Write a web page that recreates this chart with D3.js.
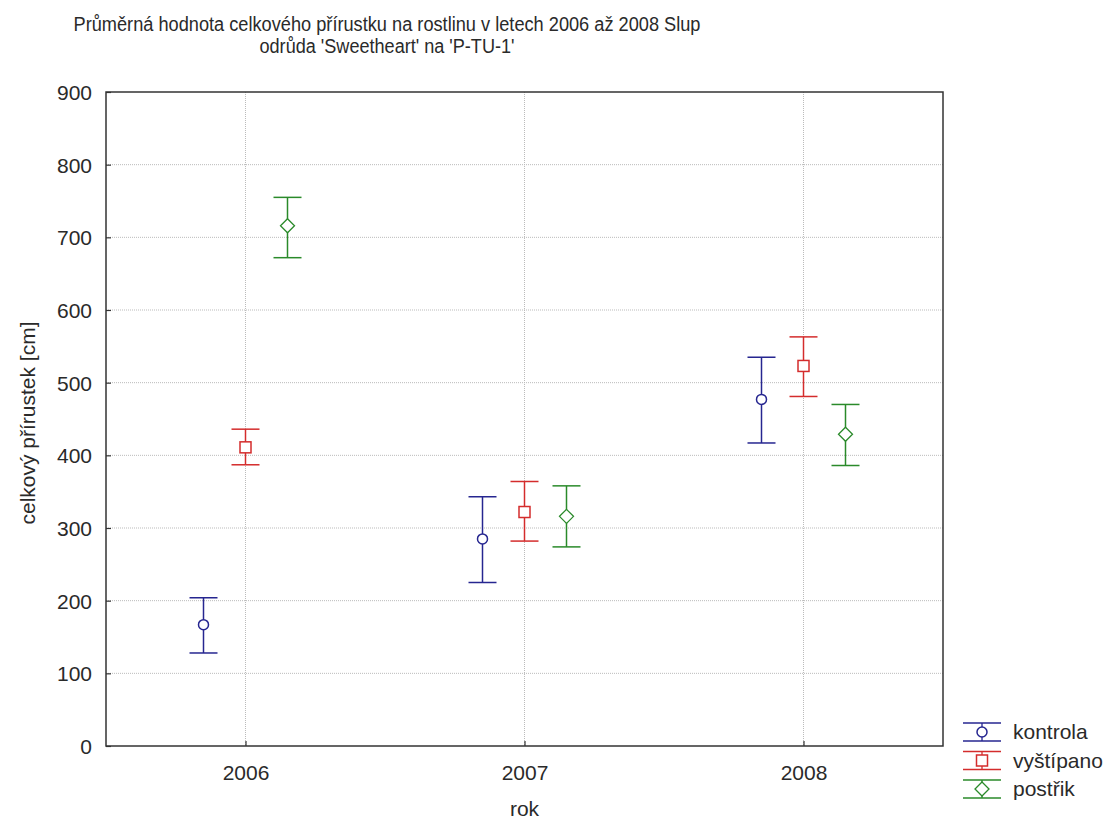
<!DOCTYPE html>
<html>
<head>
  <meta charset="utf-8">
  <title>Celkový přírustek</title>
  <script src="https://d3js.org/d3.v7.min.js"></script>
  <style>
    body { margin: 0; background: #fff; }
    svg text { font-family: 'Liberation Sans', Arial, sans-serif; fill: #2a2a2a; }
  </style>
</head>
<body>
  <div id="chart"></div>
  <script>
    // data
    const years = [2006, 2007, 2008];
    const groups = ["kontrola", "vyštípano", "postřik"];
    const kontrolaMean = [167, 285, 477];
    const kontrolaLow  = [128, 225, 417];
    const kontrolaHigh = [204, 343, 535];
    const vystipanoMean = [411, 322, 523];
    const vystipanoLow  = [387, 282, 481];
    const vystipanoHigh = [436, 364, 563];
    const postrikMean = [716, 316, 429];
    const postrikLow  = [672, 274, 386];
    const postrikHigh = [755, 358, 470];
    const yTicks = [0, 100, 200, 300, 400, 500, 600, 700, 800, 900];

    const series = [
      { name: groups[0], mean: kontrolaMean, low: kontrolaLow, high: kontrolaHigh, color: "#262690", shape: "circle", offset: -1 },
      { name: groups[1], mean: vystipanoMean, low: vystipanoLow, high: vystipanoHigh, color: "#d42c2c", shape: "square", offset: 0 },
      { name: groups[2], mean: postrikMean, low: postrikLow, high: postrikHigh, color: "#2a8a2a", shape: "diamond", offset: 1 }
    ];

    const width = 1113, height = 823;
    const margin = { left: 106, right: 170, top: 92, bottom: 77 };
    const innerW = width - margin.left - margin.right;
    const innerH = height - margin.top - margin.bottom;

    const svg = d3.select("#chart").append("svg")
      .attr("width", width)
      .attr("height", height);

    const x = d3.scaleLinear().domain([2005.5, 2008.5]).range([margin.left, margin.left + innerW]);
    const y = d3.scaleLinear().domain([0, 900]).range([margin.top + innerH, margin.top]);
    const dodge = 42;   // horizontal spread of the three groups in pixels
    const capW = 14;

    // title (squeezed a bit, the original font is narrower)
    const title = svg.append("text")
      .attr("text-anchor", "middle")
      .style("font-size", "20px");
    title.append("tspan").attr("x", 387).attr("y", 31)
      .attr("textLength", 627).attr("lengthAdjust", "spacingAndGlyphs")
      .text("Průměrná hodnota celkového přírustku na rostlinu v letech 2006 až 2008 Slup");
    title.append("tspan").attr("x", 387).attr("y", 53)
      .attr("textLength", 255).attr("lengthAdjust", "spacingAndGlyphs")
      .text("odrůda 'Sweetheart' na 'P-TU-1'");

    // grid
    svg.append("g").selectAll("line")
      .data(yTicks.slice(1, -1))
      .join("line")
      .attr("x1", margin.left).attr("x2", margin.left + innerW)
      .attr("y1", d => y(d)).attr("y2", d => y(d))
      .attr("stroke", "#bbb").attr("stroke-dasharray", "1,1");
    svg.append("g").selectAll("line")
      .data(years)
      .join("line")
      .attr("x1", d => x(d)).attr("x2", d => x(d))
      .attr("y1", margin.top).attr("y2", margin.top + innerH)
      .attr("stroke", "#bbb").attr("stroke-dasharray", "1,1");

    // axes
    const yAxis = svg.append("g")
      .attr("transform", `translate(${margin.left},0)`)
      .call(d3.axisLeft(y).tickValues(yTicks).tickSize(-5).tickPadding(14));
    const xAxis = svg.append("g")
      .attr("transform", `translate(0,${margin.top + innerH})`)
      .call(d3.axisBottom(x).tickValues(years).tickFormat(d3.format("d")).tickSize(-5).tickPadding(14));
    [yAxis, xAxis].forEach(a => {
      a.select(".domain").remove();
      a.selectAll(".tick line").attr("stroke", "#333").attr("stroke-width", 1.2);
      a.selectAll(".tick text").style("font-size", "21px").attr("fill", "#2a2a2a");
    });
    yAxis.selectAll(".tick text").attr("dy", "0.36em");
    xAxis.selectAll(".tick text").attr("dy", "0.95em");

    // frame
    svg.append("rect")
      .attr("x", margin.left).attr("y", margin.top)
      .attr("width", innerW).attr("height", innerH)
      .attr("fill", "none").attr("stroke", "#333").attr("stroke-width", 1.5);

    // axis titles
    svg.append("text")
      .attr("x", x(2007)).attr("y", 816)
      .attr("text-anchor", "middle").style("font-size", "21px")
      .text("rok");
    svg.append("text")
      .attr("transform", "translate(35,423) rotate(-90)")
      .attr("text-anchor", "middle").style("font-size", "21px")
      .text("celkový přírustek [cm]");

    function drawMarker(g, shape, cx, cy, color) {
      if (shape === "circle") {
        g.append("circle").attr("cx", cx).attr("cy", cy).attr("r", 5)
          .attr("fill", "#fff").attr("stroke", color).attr("stroke-width", 1.5);
      } else if (shape === "square") {
        g.append("rect").attr("x", cx - 5.5).attr("y", cy - 5.5).attr("width", 11).attr("height", 11)
          .attr("fill", "#fff").attr("stroke", color).attr("stroke-width", 1.5);
      } else {
        g.append("path").attr("d", `M${cx},${cy - 7}L${cx + 7},${cy}L${cx},${cy + 7}L${cx - 7},${cy}Z`)
          .attr("fill", "#fff").attr("stroke", color).attr("stroke-width", 1.3);
      }
    }

    // error bars
    series.forEach(s => {
      const g = svg.append("g");
      years.forEach((yr, i) => {
        const cx = x(yr) + s.offset * dodge;
        g.append("line").attr("x1", cx).attr("x2", cx)
          .attr("y1", y(s.low[i])).attr("y2", y(s.high[i]))
          .attr("stroke", s.color).attr("stroke-width", 1.5);
        [s.low[i], s.high[i]].forEach(v => {
          g.append("line").attr("x1", cx - capW).attr("x2", cx + capW)
            .attr("y1", y(v)).attr("y2", y(v))
            .attr("stroke", s.color).attr("stroke-width", 1.5);
        });
        drawMarker(g, s.shape, cx, y(s.mean[i]), s.color);
      });
    });

    // legend
    const legend = svg.append("g");
    series.forEach((s, i) => {
      const cy = 732 + i * 28.5;
      const cx = 982;
      const g = legend.append("g");
      g.append("line").attr("x1", cx).attr("x2", cx).attr("y1", cy - 9).attr("y2", cy + 9)
        .attr("stroke", s.color).attr("stroke-width", 1.3);
      [cy - 9, cy + 9].forEach(v => {
        g.append("line").attr("x1", cx - 19).attr("x2", cx + 19).attr("y1", v).attr("y2", v)
          .attr("stroke", s.color).attr("stroke-width", 1.3);
      });
      drawMarker(g, s.shape, cx, cy, s.color);
      g.append("text").attr("x", 1013).attr("y", cy + 7)
        .style("font-size", "21px").text(s.name);
    });
  </script>
</body>
</html>
